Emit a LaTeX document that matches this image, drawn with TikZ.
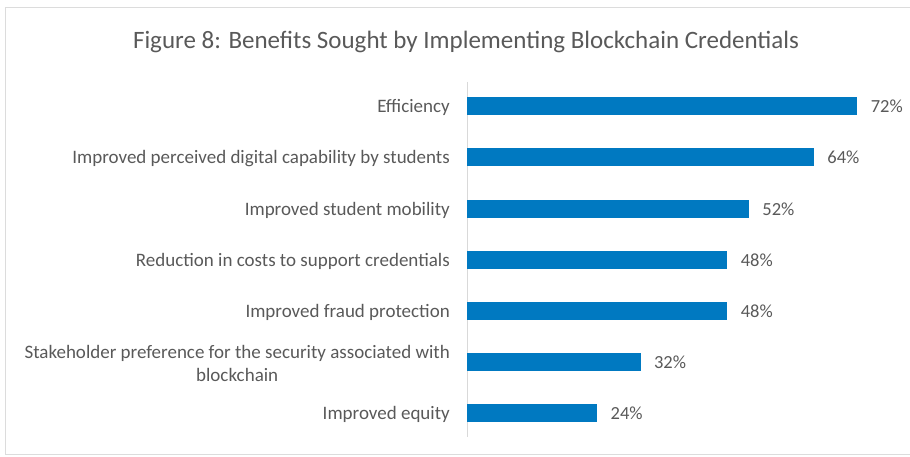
\documentclass[tikz,border=0pt]{standalone}
\usepackage{fontspec}
\setmainfont{Carlito}
\usetikzlibrary{positioning}
\definecolor{barblue}{HTML}{0079C1}
\definecolor{txtgray}{HTML}{595959}
\definecolor{axisgray}{HTML}{D9D9D9}
\definecolor{framegray}{HTML}{DCDCDC}

\begin{document}
\begin{tikzpicture}[x=1pt,y=-1pt,
  catlabel/.style={anchor=east,text=txtgray,align=center,
    font=\fontsize{19}{23}\selectfont,inner sep=0pt},
  vallabel/.style={text=txtgray,font=\fontsize{18.5}{22}\selectfont,inner sep=0pt},
  bar/.style={fill=barblue,draw=none,inner sep=0pt,minimum height=18pt,anchor=west}]
  \useasboundingbox (0,0) rectangle (910,457);
  % frame of the chart area
  \draw[framegray] (910,7) -- (5,7) -- (5,454) -- (910,454);
  \node[text=txtgray,font=\fontsize{25}{29}\selectfont] (title) at (466,42)
    {Figure 8: Benefits Sought by Implementing Blockchain Credentials};
  \coordinate (axtop) at (467,82);
  \coordinate (axbot) at (467,437);
  \draw[axisgray] (axtop) -- (axbot);
  % bars, categories and values
  \foreach \val/\ypos/\name/\txt in {%
      72/106/eff/{Efficiency},
      64/157/cap/{Improved perceived digital capability by students},
      52/209/mob/{Improved student mobility},
      48/260/cost/{Reduction in costs to support credentials},
      48/311/fraud/{Improved fraud protection},
      32/362/sec/{Stakeholder preference for the security associated with\\blockchain},
      24/413/equ/{Improved equity}}
  {
    \node[bar,minimum width={5.42pt*\val}] (bar-\name) at (467,\ypos) {};
    \node[catlabel] (cat-\name) at (450,\ypos+1.5) {\txt};
    \node[vallabel,right=13pt of bar-\name] (val-\name) {\val\%};
  }
\end{tikzpicture}
\end{document}
